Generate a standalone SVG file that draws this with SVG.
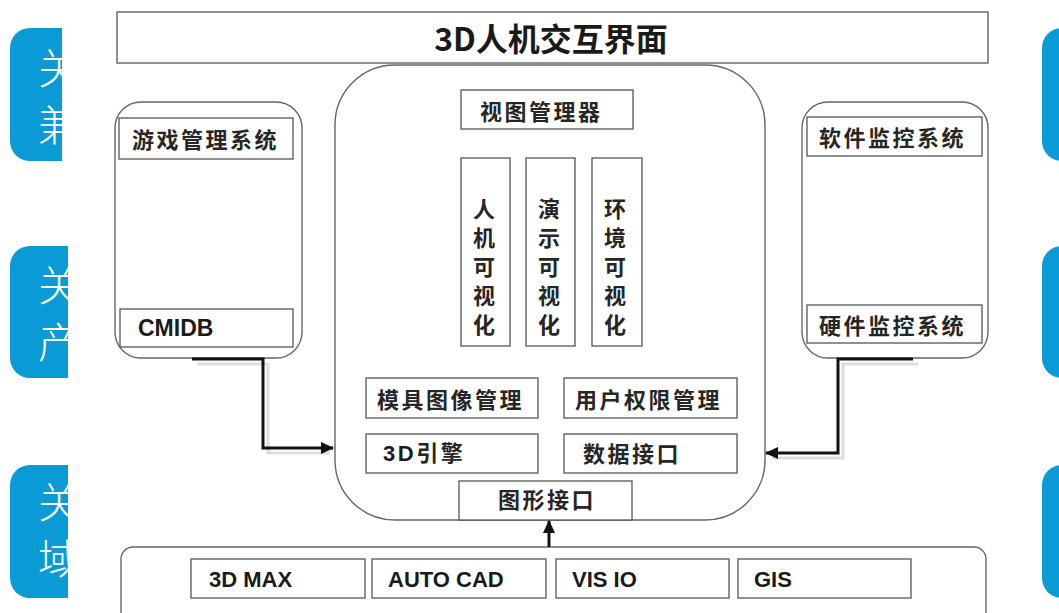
<svg xmlns="http://www.w3.org/2000/svg" width="1059" height="613" viewBox="0 0 1059 613">
<style>
.box{fill:#fff;stroke:#555;stroke-width:1.3}
.panel{fill:#fff;stroke:#666;stroke-width:1.4}
.cn{font-family:"Noto Sans CJK SC","Liberation Sans",sans-serif;font-weight:700;font-size:22px;fill:#262626;letter-spacing:2.5px}
.en{font-family:"Liberation Sans","Noto Sans CJK SC",sans-serif;font-weight:700;font-size:22px;fill:#1a1a1a}
.tab{fill:#0a9bd7}
.tabt{font-family:"Noto Sans CJK SC",sans-serif;font-weight:300;font-size:42px;fill:#fff}
.arr{fill:none;stroke:#111;stroke-width:3}
.sh{fill:none;stroke:#ddd;stroke-width:3}
</style>
<defs>
<marker id="ah" markerUnits="userSpaceOnUse" markerWidth="14" markerHeight="12" refX="12" refY="6" orient="auto">
<path d="M0,0 L13,6 L0,12 Z" fill="#111"/>
</marker>
<clipPath id="c1"><rect x="10" y="28" width="52" height="133" rx="20"/></clipPath>
<clipPath id="c2"><rect x="10" y="246" width="58" height="132" rx="20"/></clipPath>
<clipPath id="c3"><rect x="10" y="465" width="58" height="133" rx="20"/></clipPath>
</defs>
<rect width="1059" height="613" fill="#fff"/>

<g id="tabs-left">
<path class="tab" d="M30,28 H62 V161 H30 A20,20 0 0 1 10,141 V48 A20,20 0 0 1 30,28 Z"/>
<g clip-path="url(#c1)"><text class="tabt" x="38" y="84">关</text><text class="tabt" x="38" y="141">兼</text></g>
<path class="tab" d="M30,246 H68 V378 H30 A20,20 0 0 1 10,358 V266 A20,20 0 0 1 30,246 Z"/>
<g clip-path="url(#c2)"><text class="tabt" x="38" y="301">关</text><text class="tabt" x="38" y="358">产</text></g>
<path class="tab" d="M30,465 H68 V598 H30 A20,20 0 0 1 10,578 V485 A20,20 0 0 1 30,465 Z"/>
<g clip-path="url(#c3)"><text class="tabt" x="38" y="518">关</text><text class="tabt" x="38" y="575">域</text></g>
</g>
<g id="tabs-right">
<path class="tab" d="M1062,28 V161 A20,20 0 0 1 1042,141 V48 A20,20 0 0 1 1062,28 Z"/>
<path class="tab" d="M1062,246 V378 A20,20 0 0 1 1042,358 V266 A20,20 0 0 1 1062,246 Z"/>
<path class="tab" d="M1062,465 V598 A20,20 0 0 1 1042,578 V485 A20,20 0 0 1 1062,465 Z"/>
</g>

<g id="top-ui">
<rect class="box" x="117" y="12" width="871" height="51"/>
<text x="551" y="51" text-anchor="middle" style="font-family:'Noto Sans CJK SC','Liberation Sans',sans-serif;font-weight:700;font-size:32px;fill:#1a1a1a">3D人机交互界面</text>
</g>

<g id="core">
<rect class="panel" x="335" y="65" width="430" height="455" rx="60"/>
<g id="view-manager"><rect class="box" x="461" y="90" width="172" height="39"/><text class="cn" x="480" y="120">视图管理器</text></g>
<g id="hci-vis"><rect class="box" x="461" y="158" width="49" height="188"/>
<text class="cn" text-anchor="middle" style="letter-spacing:0"><tspan x="484" y="217">人</tspan><tspan x="484" y="246">机</tspan><tspan x="484" y="275">可</tspan><tspan x="484" y="304">视</tspan><tspan x="484" y="333">化</tspan></text></g>
<g id="demo-vis"><rect class="box" x="526" y="158" width="49" height="188"/>
<text class="cn" text-anchor="middle" style="letter-spacing:0"><tspan x="549" y="217">演</tspan><tspan x="549" y="246">示</tspan><tspan x="549" y="275">可</tspan><tspan x="549" y="304">视</tspan><tspan x="549" y="333">化</tspan></text></g>
<g id="env-vis"><rect class="box" x="592" y="158" width="50" height="188"/>
<text class="cn" text-anchor="middle" style="letter-spacing:0"><tspan x="615" y="217">环</tspan><tspan x="615" y="246">境</tspan><tspan x="615" y="275">可</tspan><tspan x="615" y="304">视</tspan><tspan x="615" y="333">化</tspan></text></g>
<g id="model-img"><rect class="box" x="366" y="378" width="172" height="40"/><text class="cn" x="377" y="408">模具图像管理</text></g>
<g id="user-perm"><rect class="box" x="564" y="378" width="173" height="40"/><text class="cn" x="575" y="408">用户权限管理</text></g>
<g id="engine"><rect class="box" x="366" y="434" width="172" height="39"/><text class="cn" x="383" y="461"><tspan class="en" style="font-family:'Liberation Sans',sans-serif">3D</tspan>引擎</text></g>
<g id="data-if"><rect class="box" x="564" y="434" width="173" height="39"/><text class="cn" x="583" y="462">数据接口</text></g>
<g id="gfx-if"><rect class="box" x="459" y="481" width="173" height="39"/><text class="cn" x="498" y="508">图形接口</text></g>
</g>

<g id="game-sys">
<rect class="panel" x="115" y="102" width="187" height="256" rx="26"/>
<g id="game-mgmt"><rect class="box" x="119" y="118" width="174" height="41"/><text class="cn" x="132" y="148">游戏管理系统</text></g>
<g id="cmidb"><rect class="box" x="120" y="309" width="173" height="38"/><text class="en" x="138" y="336" style="font-size:23px">CMIDB</text></g>
</g>

<g id="monitor-sys">
<rect class="panel" x="802" y="102" width="186" height="256" rx="26"/>
<g id="sw-mon"><rect class="box" x="807" y="117" width="175" height="39"/><text class="cn" x="819" y="146">软件监控系统</text></g>
<g id="hw-mon"><rect class="box" x="807" y="305" width="175" height="38"/><text class="cn" x="819" y="334">硬件监控系统</text></g>
</g>

<g id="tools">
<rect class="panel" x="121" y="547" width="865" height="80" rx="12"/>
<g id="max"><rect class="box" x="191" y="559" width="174" height="39"/><text class="en" x="209" y="587">3D MAX</text></g>
<g id="cad"><rect class="box" x="372" y="559" width="174" height="39"/><text class="en" x="388" y="587">AUTO CAD</text></g>
<g id="visio"><rect class="box" x="556" y="559" width="173" height="39"/><text class="en" x="572" y="587">VIS IO</text></g>
<g id="gis"><rect class="box" x="738" y="559" width="173" height="39"/><text class="en" x="754" y="587">GIS</text></g>
</g>

<g id="connectors">
<path class="sh" d="M197,364 H268 V453 H330"/>
<path class="sh" d="M918,364 H843 V458 H772"/>
<path class="arr" d="M192,359 H263 V448 H333" marker-end="url(#ah)"/>
<path class="arr" d="M913,359 H838 V453 H766" marker-end="url(#ah)"/>
<path class="arr" d="M549,547 V521" marker-end="url(#ah)"/>
</g>
</svg>
